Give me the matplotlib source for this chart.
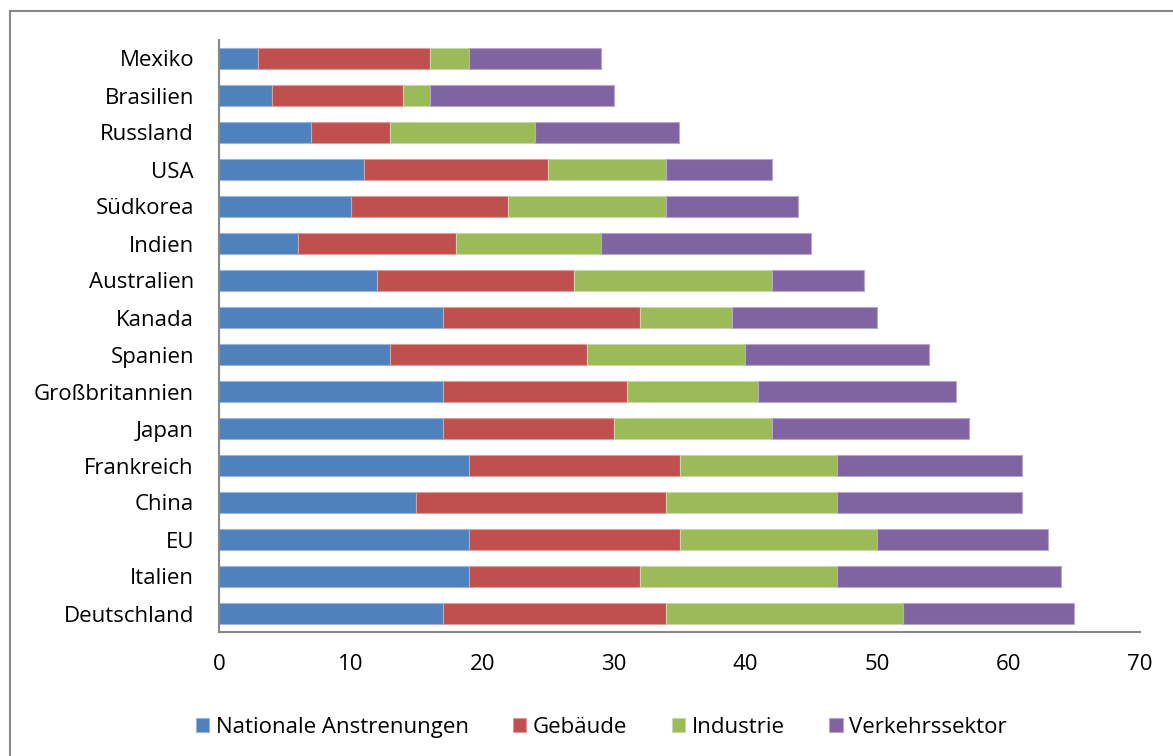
import numpy as np
import matplotlib
matplotlib.use("Agg")
from matplotlib import pyplot as plt
from matplotlib.lines import Line2D

plt.rcParams['font.family'] = ['Open Sans', 'DejaVu Sans']

laender = ["Mexiko", "Brasilien", "Russland", "USA", "Südkorea", "Indien",
           "Australien", "Kanada", "Spanien", "Großbritannien", "Japan",
           "Frankreich", "China", "EU", "Italien", "Deutschland"]

nationale = [3, 4, 7, 11, 10, 6, 12, 17, 13, 17, 17, 19, 15, 19, 19, 17]
gebaeude = [13, 10, 6, 14, 12, 12, 15, 15, 15, 14, 13, 16, 19, 16, 13, 17]
industrie = [3, 2, 11, 9, 12, 11, 15, 7, 12, 10, 12, 12, 13, 15, 15, 18]
verkehr = [10, 14, 11, 8, 10, 16, 7, 11, 14, 15, 15, 14, 14, 13, 17, 13]

serien = ["Nationale Anstrenungen", "Gebäude", "Industrie", "Verkehrssektor"]
farben = ["#4F81BD", "#C0504D", "#9BBB59", "#8064A2"]
kanten = ["#9DB5D9", "#DB9E9C", "#C6D8A8", "#B7A7CB"]

fig = plt.figure(figsize=(11.73, 7.56), dpi=100)
ax = fig.add_axes([219/1173, 1 - 632/756, (1140 - 219)/1173, (632 - 40)/756])

y = np.arange(len(laender))
links = np.zeros(len(laender))
for werte, name, farbe, kante in zip([nationale, gebaeude, industrie, verkehr], serien, farben, kanten):
    ax.barh(y, werte, left=links, height=0.57, color=farbe, edgecolor=kante,
            linewidth=0.8, label=name)
    links = links + np.array(werte)

ax.set_ylim(len(laender) - 0.5, -0.5)
ax.set_xlim(0, 70)
ax.set_yticks(y)
ax.set_yticklabels(laender, fontsize=16)
ax.set_xticks(range(0, 71, 10))
ax.tick_params(axis='x', labelsize=16, length=0, pad=16)
ax.tick_params(axis='y', length=0, pad=18)

for s in ['top', 'right']:
    ax.spines[s].set_visible(False)
for s in ['left', 'bottom']:
    ax.spines[s].set_color('#878787')
    ax.spines[s].set_linewidth(1.5)

ax.legend(loc='upper center', bbox_to_anchor=(0.415, -0.11), ncol=4, frameon=False,
          fontsize=16, handlelength=0.6, handleheight=0.6, handletextpad=0.3,
          columnspacing=2.0)

# Rahmen um das Diagramm
fig.add_artist(Line2D([10/1173, 1], [1 - 11/756, 1 - 11/756], color='#888888', lw=1.5))
fig.add_artist(Line2D([10/1173, 10/1173], [0, 1 - 11/756], color='#888888', lw=1.5))

fig.savefig("out.png", dpi=100)
